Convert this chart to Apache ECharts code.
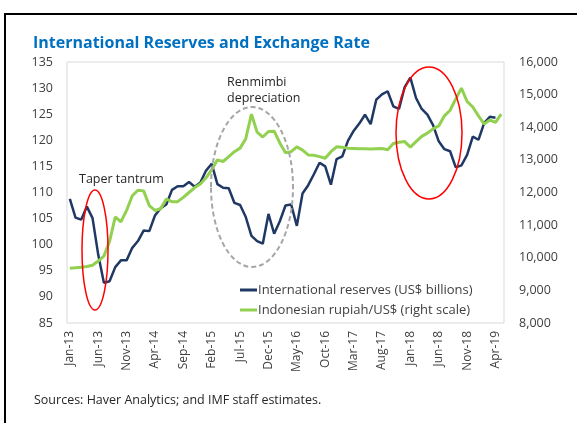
<!DOCTYPE html>
<html>
<head>
<meta charset="utf-8">
<script src="https://cdn.jsdelivr.net/npm/echarts@6/dist/echarts.min.js"></script>
<style>
  html, body { margin: 0; padding: 0; background: #fff; }
  #chart { width: 577px; height: 423px; }
</style>
</head>
<body>
<div id="chart"></div>
<script>
  // month labels, Jan-13 .. May-19
  const months = [
    'Jan-13','Feb-13','Mar-13','Apr-13','May-13','Jun-13','Jul-13','Aug-13','Sep-13','Oct-13','Nov-13','Dec-13',
    'Jan-14','Feb-14','Mar-14','Apr-14','May-14','Jun-14','Jul-14','Aug-14','Sep-14','Oct-14','Nov-14','Dec-14',
    'Jan-15','Feb-15','Mar-15','Apr-15','May-15','Jun-15','Jul-15','Aug-15','Sep-15','Oct-15','Nov-15','Dec-15',
    'Jan-16','Feb-16','Mar-16','Apr-16','May-16','Jun-16','Jul-16','Aug-16','Sep-16','Oct-16','Nov-16','Dec-16',
    'Jan-17','Feb-17','Mar-17','Apr-17','May-17','Jun-17','Jul-17','Aug-17','Sep-17','Oct-17','Nov-17','Dec-17',
    'Jan-18','Feb-18','Mar-18','Apr-18','May-18','Jun-18','Jul-18','Aug-18','Sep-18','Oct-18','Nov-18','Dec-18',
    'Jan-19','Feb-19','Mar-19','Apr-19','May-19'
  ]

  // international reserves, US$ billions (left scale)
  const reserves = [
    108.8, 105.2, 104.8, 107.3, 105.1, 98.1, 92.7, 93.0, 95.7, 97.0, 97.0, 99.4,
    100.7, 102.7, 102.6, 105.6, 107.0, 107.7, 110.5, 111.2, 111.2, 112.0, 111.1, 111.9,
    114.2, 115.5, 111.6, 110.9, 110.8, 108.0, 107.6, 105.3, 101.7, 100.7, 100.2, 105.9,
    102.1, 104.5, 107.5, 107.7, 103.6, 109.8, 111.4, 113.5, 115.7, 115.0, 111.5, 116.4,
    116.9, 119.9, 121.8, 123.2, 124.9, 123.1, 127.8, 128.8, 129.4, 126.5, 126.0, 130.2,
    132.0, 128.1, 126.0, 124.9, 122.9, 119.8, 118.3, 117.9, 114.8, 115.2, 117.2, 120.7,
    120.1, 123.3, 124.5, 124.3
  ]

  // rupiah per US$ (right scale)
  const rupiah = [
    9680, 9690, 9710, 9730, 9770, 9900, 10050, 10500, 11250, 11100, 11450, 11900,
    12070, 12050, 11600, 11450, 11500, 11800, 11720, 11720, 11850, 12000, 12150, 12260,
    12450, 12700, 13000, 12950, 13100, 13250, 13360, 13650, 14400, 13850, 13700, 13870,
    13880, 13520, 13220, 13250, 13400, 13300, 13150, 13140, 13100, 13050, 13250, 13400,
    13390, 13360, 13350, 13340, 13340, 13330, 13340, 13350, 13310, 13500, 13540, 13560,
    13390, 13560, 13720, 13820, 13950, 14040, 14350, 14520, 14870, 15200, 14790, 14620,
    14350, 14100, 14220, 14150, 14400
  ]

  const seriesNames = ['International reserves (US$ billions)', 'Indonesian rupiah/US$ (right scale)']

  const font = "'Open Sans', 'Noto Sans', sans-serif"
  const txt = '#404040'

  const myChart = echarts.init(document.getElementById('chart'))

  function thousands(v) {
    return String(v).replace(/\B(?=(\d{3})+(?!\d))/g, ',')
  }

  const option = {
    animation: false,
    backgroundColor: '#fff',
    textStyle: { fontFamily: font },
    title: {
      text: 'International Reserves and Exchange Rate',
      left: 28,
      top: 30,
      textStyle: { color: '#0070c0', fontSize: 16, fontWeight: 'bold', fontFamily: font }
    },
    grid: {
      left: 67, right: 73, top: 62, bottom: 100,
      show: true, borderColor: '#d9d9d9', borderWidth: 1
    },
    legend: {
      orient: 'vertical',
      left: 235,
      top: 277,
      itemWidth: 17,
      itemHeight: 3,
      itemGap: 4,
      icon: 'rect',
      data: seriesNames,
      textStyle: { color: txt, fontSize: 13, lineHeight: 16, padding: [0, 0, 0, -4] }
    },
    xAxis: {
      type: 'category',
      data: months,
      boundaryGap: true,
      axisLine: { show: false },
      axisTick: { show: false },
      axisLabel: { interval: 4, rotate: 90, margin: 8, color: txt, fontSize: 12 }
    },
    yAxis: [
      {
        type: 'value', min: 85, max: 135, interval: 5,
        splitLine: { show: false },
        axisLine: { show: false }, axisTick: { show: false },
        axisLabel: { color: txt, fontSize: 12.5, margin: 14 }
      },
      {
        type: 'value', min: 8000, max: 16000, interval: 1000,
        splitLine: { show: false },
        axisLine: { show: false }, axisTick: { show: false },
        axisLabel: { color: txt, fontSize: 12.5, margin: 15, formatter: thousands }
      }
    ],
    series: [
      {
        name: seriesNames[0],
        type: 'line',
        data: reserves,
        yAxisIndex: 0,
        symbol: 'none',
        z: 2,
        lineStyle: { color: '#1f3864', width: 2.5 },
        itemStyle: { color: '#1f3864' }
      },
      {
        name: seriesNames[1],
        type: 'line',
        data: rupiah,
        yAxisIndex: 1,
        symbol: 'none',
        z: 3,
        lineStyle: { color: '#92d050', width: 3 },
        itemStyle: { color: '#92d050' }
      }
    ],
    graphic: [
      // outer frame
      { type: 'rect', shape: { x: 5, y: 14, width: 700, height: 600 }, style: { fill: null, stroke: '#000', lineWidth: 2 }, z: 1 },
      // annotations
      { type: 'text', left: 79, top: 173, style: { text: 'Taper tantrum', fill: '#262626', font: '12.5px ' + font } },
      { type: 'text', left: 227, top: 74, style: { text: 'Renmimbi\ndepreciation', fill: '#262626', font: '12.5px ' + font, lineHeight: 16 } },
      { type: 'ellipse', shape: { cx: 95, cy: 250, rx: 13, ry: 60 }, style: { fill: null, stroke: '#ff0000', lineWidth: 1.5 }, z: 10 },
      { type: 'ellipse', shape: { cx: 252, cy: 187, rx: 41, ry: 80 }, style: { fill: null, stroke: '#a6a6a6', lineWidth: 2, lineDash: [5, 3] }, z: 10 },
      { type: 'ellipse', shape: { cx: 429, cy: 133, rx: 33, ry: 66 }, style: { fill: null, stroke: '#ff0000', lineWidth: 1.5 }, z: 10 },
      // source note
      { type: 'text', left: 34, top: 394, style: { text: 'Sources: Haver Analytics; and IMF staff estimates.', fill: '#262626', font: '12.5px ' + font } }
    ]
  }

  myChart.setOption(option)
</script>
</body>
</html>
